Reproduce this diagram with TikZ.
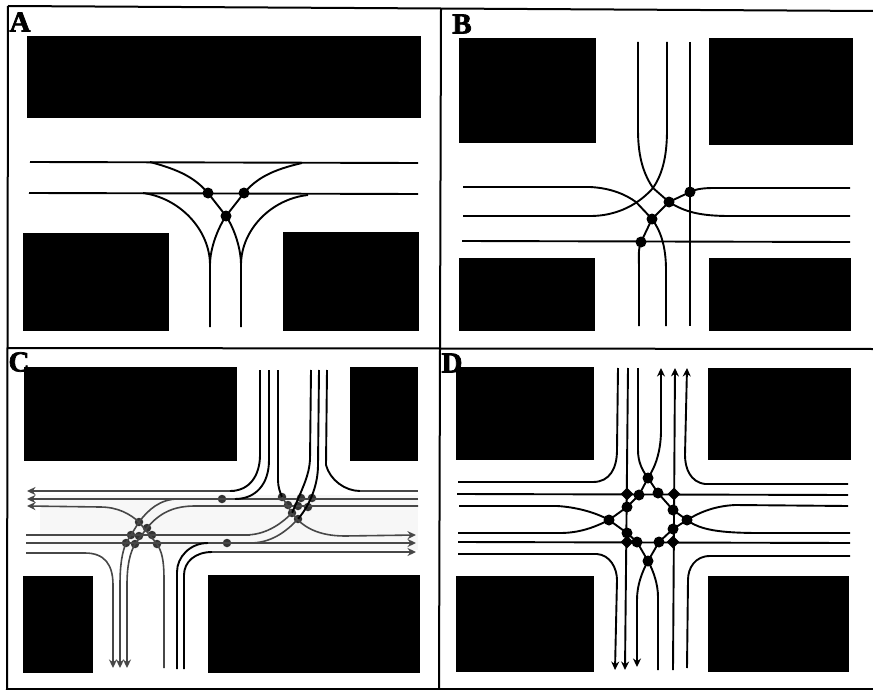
\documentclass[tikz,border=0pt]{standalone}
\usepackage{xcolor}
\usepackage{fontspec}
\newfontfamily\letterfont[FakeBold=2.5]{Liberation Serif Bold}
\usetikzlibrary{arrows.meta, shapes.geometric}
\begin{document}
\begin{tikzpicture}[
        x=1pt, y=-1pt,
        block/.style={fill=black},
        frameline/.style={line width=2pt},
        street/.style={line width=1.9pt},
        pale/.style={line width=1.6pt, color=black!72},
        tip/.style={-{Stealth[length=8.5pt, width=8pt]}},
        junction/.style={circle, fill=black, minimum size=11pt, inner sep=0pt},
        crossing/.style={diamond, fill=black, minimum size=13pt, inner sep=0pt},
        smalljunction/.style={circle, fill=black!80, minimum size=8.5pt, inner sep=0pt},
        letter/.style={font=\letterfont\fontsize{29}{29}\selectfont, inner sep=0pt}
      ]
      \useasboundingbox (0,0) rectangle (873,690);
      \fill[white] (0,0) rectangle (873,690);
      % frame
      \draw[frameline] (8,6) -- (873,11);
      \draw[frameline] (8,6) -- (7,689) -- (873,689);
      \draw[frameline] (441,9) -- (439,689);
      \draw[frameline] (8,348) -- (873,349);

      % panel A
      \fill[block] (27,36) rectangle (421,118);
      \fill[block] (23,233) rectangle (169,331);
      \fill[block] (283,232) rectangle (419,331);
      \node[junction] (A1) at (208,193) {};
      \node[junction] (A2) at (244,193) {};
      \node[junction] (A3) at (226,216) {};
      \draw[street] (30,162) -- (418,163);
      \draw[street] (29,193) -- (418,194);
      \draw[street] (150,162) .. controls (180,170) and (195,178) .. (A1.center) -- (A3.center)
        .. controls (234,228) and (241,248) .. (241,265) -- (241,327);
      \draw[street] (302,163) .. controls (272,170) and (257,178) .. (A2.center) -- (A3.center)
        .. controls (218,228) and (210,248) .. (210,265) -- (210,327);
      \draw[street] (143,193) .. controls (180,198) and (210,230) .. (210,265);
      \draw[street] (308,195) .. controls (271,199) and (241,230) .. (241,265);

      % panel B
      \fill[block] (459,38) rectangle (596,143);
      \fill[block] (709,38) rectangle (853,145);
      \fill[block] (459,258) rectangle (595,331);
      \fill[block] (709,258) rectangle (851,331);
      \node[junction] (B1) at (690,192) {};
      \node[junction] (B2) at (669,202) {};
      \node[junction] (B3) at (652,219) {};
      \node[junction] (B4) at (641,242) {};
      \coordinate (B5) at (653,188);
      \coordinate (B6) at (636,202);
      \draw[street] (690,42) -- (690,326);
      \draw[street] (462,241) -- (850,242);
      \draw[street] (638,42) -- (638,130) .. controls (638,160) and (645,176) .. (B5)
        -- (B2.center) .. controls (685,212) and (700,216) .. (730,216) -- (850,216);
      \draw[street] (667,42) -- (667,130) .. controls (667,160) and (661,176) .. (B5)
        .. controls (645,197) and (625,216) .. (590,216) -- (463,216);
      \draw[street] (463,187) -- (590,187) .. controls (610,188) and (625,194) .. (B6)
        -- (B3.center) .. controls (660,230) and (666,245) .. (666,270) -- (666,326);
      \draw[street] (850,188) -- (715,188) .. controls (703,188) and (696,189) .. (B1.center)
        -- (B2.center) -- (B3.center) -- (B4.center)
        .. controls (638,250) and (639,255) .. (639,270) -- (639,326);

      % panel C
      \fill[black!3] (40,495) rectangle (418,550);
      \fill[block] (24,367) rectangle (237,461);
      \fill[block] (350,367) rectangle (418,461);
      \fill[block] (23,576) rectangle (93,673);
      \fill[block] (208,575) rectangle (420,673);
      \node[smalljunction] (C1) at (222,499) {};
      \node[smalljunction] (C2) at (227,543) {};
      \node[smalljunction] (C3) at (282,497) {};
      \node[smalljunction] (C4) at (288,505) {};
      \node[smalljunction] (C5) at (301,498) {};
      \node[smalljunction] (C6) at (298,506) {};
      \node[smalljunction] (C7) at (312,498) {};
      \node[smalljunction] (C8) at (308,507) {};
      \node[smalljunction] (C9) at (292,513) {};
      \node[smalljunction] (C10) at (298,519) {};
      \node[smalljunction] (C11) at (139,522) {};
      \node[smalljunction] (C12) at (147,528) {};
      \node[smalljunction] (C13) at (131,535) {};
      \node[smalljunction] (C14) at (139,536) {};
      \node[smalljunction] (C15) at (152,535) {};
      \node[smalljunction] (C16) at (126,543) {};
      \node[smalljunction] (C17) at (135,544) {};
      \node[smalljunction] (C18) at (157,544) {};
      \draw[pale, tip] (235,491) -- (27,491);
      \draw[pale, tip] (418,499) -- (27,499);
      \draw[pale, tip] (100,507) -- (27,506);
      \draw[pale] (26,535) -- (250,535);
      \draw[pale, tip] (26,543) -- (416,543);
      \draw[pale, tip] (210,552) -- (416,552);
      \draw[street] (260,370) -- (260,455) .. controls (260,475) and (250,491) .. (230,491);
      \draw[street] (269,370) -- (269,460) .. controls (269,485) and (255,499) .. (235,499);
      \draw[pale, tip] (418,506) -- (195,506) .. controls (175,506) and (160,512) .. (C12.center)
        -- (C17.center) .. controls (130,553) and (127,565) .. (127,585) -- (127,668);
      \draw[pale, tip] (178,499) .. controls (160,499) and (148,510) .. (C11.center) -- (C16.center)
        .. controls (122,553) and (120,565) .. (120,585) -- (120,668);
      \draw[pale] (100,507) .. controls (118,507) and (130,514) .. (C11.center) -- (C18.center)
        .. controls (162,552) and (164,560) .. (164,580) -- (164,668);
      \draw[pale, tip] (26,553) -- (85,553) .. controls (105,553) and (113,565) .. (113,585) -- (113,668);
      \draw[street] (278,370) -- (278,480) .. controls (278,487) and (280,492) .. (C3.center);
      \draw[pale, tip] (C3.center) -- (C9.center) .. controls (302,527) and (318,536) .. (345,536) -- (416,535);
      \draw[street] (311,370) -- (310,460) .. controls (309,475) and (304,485) .. (C9.center);
      \draw[pale] (C9.center) .. controls (280,525) and (265,535) .. (245,535);
      \draw[street] (319,370) -- (318,465) .. controls (318,485) and (310,505) .. (C10.center);
      \draw[pale] (C10.center) .. controls (285,533) and (270,543) .. (250,543);
      \draw[street] (327,370) -- (326,465) .. controls (330,480) and (345,491) .. (360,491);
      \draw[pale] (360,491) -- (418,491);
      \draw[street] (177,669) -- (177,572) .. controls (177,557) and (190,543) .. (208,543);
      \draw[street] (184,669) -- (184,575) .. controls (184,562) and (195,552) .. (212,552);

      % panel D
      \fill[block] (456,367) rectangle (594,460);
      \fill[block] (708,368) rectangle (851,460);
      \fill[block] (456,576) rectangle (594,672);
      \fill[block] (708,576) rectangle (849,672);
      \node[crossing] (D1) at (627,494) {};
      \node[crossing] (D2) at (674,494) {};
      \node[crossing] (D3) at (627,542) {};
      \node[crossing] (D4) at (673,542) {};
      \node[junction] (D5) at (648,478) {};
      \node[junction] (D6) at (639,495) {};
      \node[junction] (D7) at (658,493) {};
      \node[junction] (D8) at (627,507) {};
      \node[junction] (D9) at (673,510) {};
      \node[junction] (D10) at (609,520) {};
      \node[junction] (D11) at (687,520) {};
      \node[junction] (D12) at (627,533) {};
      \node[junction] (D13) at (673,529) {};
      \node[junction] (D14) at (637,542) {};
      \node[junction] (D15) at (659,542) {};
      \node[junction] (D16) at (648,561) {};
      \draw[street] (458,482) -- (593,482) .. controls (610,482) and (617,468) .. (617,450) -- (618,368);
      \draw[street, tip] (848,484) -- (705,484) .. controls (690,482) and (685,468) .. (685,455) -- (687,368);
      \draw[street, tip] (628,368) -- (625,670);
      \draw[street, tip] (673,670) -- (675,368);
      \draw[street] (457,494) -- (848,495);
      \draw[street] (458,542) -- (850,543);
      \draw[street] (638,368) -- (638,450) .. controls (638,462) and (642,470) .. (D5.center)
        -- (D7.center) -- (D9.center) -- (D11.center)
        .. controls (700,530) and (720,533) .. (760,533) -- (850,533);
      \draw[street, tip] (458,533) -- (560,533) .. controls (580,533) and (595,527) .. (D10.center)
        -- (D8.center) -- (D6.center) -- (D5.center)
        .. controls (656,466) and (661,450) .. (661,430) -- (661,368);
      \draw[street] (459,506) -- (557,506) .. controls (575,507) and (595,512) .. (D10.center)
        -- (D12.center) -- (D14.center) -- (D16.center)
        .. controls (654,572) and (658,585) .. (658,597) -- (658,670);
      \draw[street, tip] (848,506) -- (735,505) .. controls (715,506) and (700,512) .. (D11.center)
        -- (D13.center) -- (D15.center) -- (D16.center)
        .. controls (642,572) and (637,585) .. (637,600) -- (637,667);
      \draw[street, tip] (458,554) -- (597,554) .. controls (610,555) and (617,568) .. (617,580) -- (615,670);
      \draw[street] (850,556) -- (710,556) .. controls (695,556) and (688,568) .. (688,580) -- (687,668);

      % letters
      \node[letter] (LA) at (20,22) {A};
      \node[letter] (LB) at (462,24) {B};
      \node[letter] (LC) at (19,362) {C};
      \node[letter] (LD) at (452,363) {D};
    \end{tikzpicture}
\end{document}
